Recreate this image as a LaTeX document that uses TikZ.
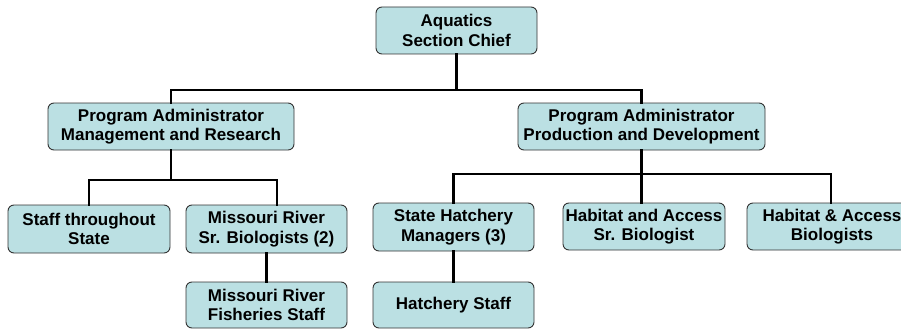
\documentclass[tikz,border=0pt]{standalone}
\usepackage{fontspec}
\setmainfont{Liberation Sans}
\definecolor{boxfill}{HTML}{BBE0E3}
\definecolor{boxline}{HTML}{333333}
\begin{document}
\begin{tikzpicture}[x=1pt,y=-1pt,
  orgbox/.style={draw=boxline, line width=0.9pt, fill=boxfill, rounded corners=6pt,
    align=center, inner sep=0pt, minimum height=47pt,
    font=\fontsize{17}{19.5}\selectfont\bfseries},
  link/.style={line width=2.8pt, line cap=rect}]
\useasboundingbox (0,0) rectangle (901,329);
\begin{scope}
\clip (0,0) rectangle (901,329);
\node[orgbox, minimum width=161pt] (chief) at (456.5,30.5) {Aquatics\\Section Chief};
\node[orgbox, minimum width=246pt] (pa1) at (171,126.5) {Program Administrator\\Management and Research};
\node[orgbox, minimum width=247pt] (pa2) at (641.5,126.5) {Program Administrator\\Production and Development};
\node[orgbox, minimum width=162pt, minimum height=48pt] (staff) at (89,229) {Staff throughout\\State};
\node[orgbox, minimum width=161pt, minimum height=48pt] (mrsb) at (266.5,229) {Missouri River\\Sr. Biologists (2)};
\node[orgbox, minimum width=161pt, minimum height=46pt] (mrfs) at (266.5,305) {Missouri River\\Fisheries Staff};
\node[orgbox, minimum width=161pt, minimum height=48pt] (shm) at (453.5,227) {State Hatchery\\Managers (3)};
\node[orgbox, minimum width=161pt, minimum height=46pt] (hs) at (453.5,305) {Hatchery Staff};
\node[orgbox, minimum width=162pt] (hasb) at (644,226.5) {Habitat and Access\\Sr. Biologist};
\node[orgbox, minimum width=170pt] (hab) at (832,226.5) {Habitat \& Access\\Biologists};

\coordinate (b0) at (456.5,90);
\coordinate (b1) at (171,180);
\coordinate (b2) at (641.5,174);

\draw[link] (chief.south) -- (b0);
\draw[link] (pa1.north) |- (b0) -| (pa2.north);
\draw[link] (pa1.south) -- (b1);
\draw[link] (staff.north) |- (b1) -| ([xshift=10.5pt]mrsb.north);
\draw[link] (mrsb.south) -- (mrfs.north);
\draw[link] (pa2.south) -- (pa2.south |- hasb.north);
\draw[link] (shm.north) |- (b2) -| ([xshift=-1pt]hab.north);
\draw[link] (shm.south) -- (hs.north);
\end{scope}
\end{tikzpicture}
\end{document}
